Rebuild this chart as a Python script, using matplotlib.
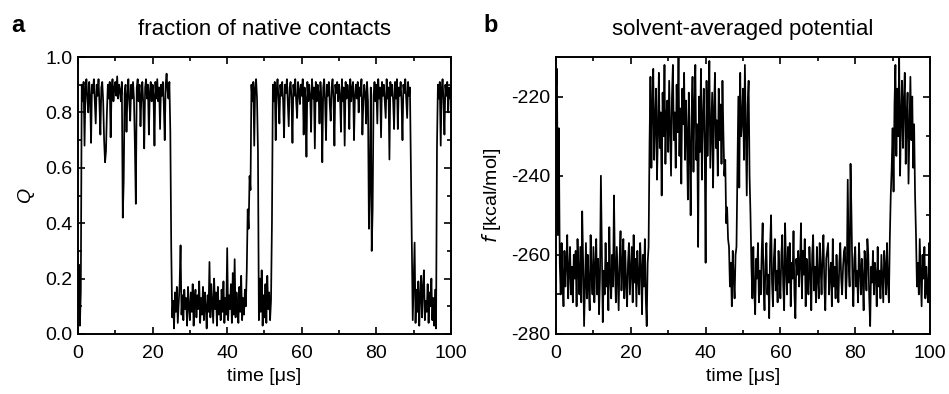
import numpy as np
import matplotlib
matplotlib.use("Agg")
import matplotlib.pyplot as plt
from matplotlib.ticker import MultipleLocator

plt.rcParams['font.family'] = ['Liberation Sans', 'DejaVu Sans']
plt.rcParams['axes.unicode_minus'] = False

SAMPLE_US = 0.25  # sampling interval (microseconds)

# fraction of native contacts Q
q_values = [
    0.10, 0.25, 0.03, 0.15, 0.90, 0.84, 0.91, 0.68, 0.88, 0.92, 0.85, 0.80, 0.91, 0.86, 0.69, 0.90, 0.87, 0.92, 0.84, 0.76,
    0.90, 0.86, 0.92, 0.83, 0.72, 0.89, 0.91, 0.84, 0.70, 0.62, 0.66, 0.80, 0.90, 0.85, 0.91, 0.71, 0.88, 0.92, 0.84, 0.89,
    0.91, 0.86, 0.93, 0.85, 0.90, 0.88, 0.84, 0.91, 0.42, 0.55, 0.87, 0.90, 0.73, 0.86, 0.92, 0.84, 0.77, 0.90, 0.85, 0.91,
    0.85, 0.68, 0.47, 0.89, 0.92, 0.84, 0.90, 0.75, 0.86, 0.91, 0.83, 0.67, 0.89, 0.92, 0.85, 0.90, 0.72, 0.87, 0.91, 0.84,
    0.90, 0.86, 0.68, 0.91, 0.85, 0.92, 0.84, 0.89, 0.74, 0.90, 0.86, 0.91, 0.83, 0.70, 0.90, 0.94, 0.88, 0.85, 0.91, 0.73,
    0.31, 0.06, 0.12, 0.02, 0.15, 0.08, 0.17, 0.04, 0.11, 0.18, 0.32, 0.07, 0.14, 0.05, 0.16, 0.09, 0.13, 0.03, 0.17, 0.10,
    0.05, 0.15, 0.08, 0.18, 0.03, 0.12, 0.16, 0.06, 0.14, 0.09, 0.19, 0.04, 0.13, 0.07, 0.17, 0.05, 0.15, 0.10, 0.02, 0.14,
    0.08, 0.26, 0.06, 0.18, 0.11, 0.04, 0.20, 0.09, 0.15, 0.03, 0.17, 0.07, 0.12, 0.05, 0.16, 0.08, 0.19, 0.04, 0.13, 0.07,
    0.31, 0.05, 0.14, 0.09, 0.18, 0.04, 0.22, 0.07, 0.27, 0.06, 0.15, 0.10, 0.04, 0.17, 0.08, 0.21, 0.05, 0.13, 0.07, 0.16,
    0.10, 0.23, 0.45, 0.38, 0.57, 0.52, 0.90, 0.84, 0.91, 0.68, 0.89, 0.92, 0.85, 0.66, 0.05, 0.20, 0.08, 0.23, 0.03, 0.14,
    0.06, 0.18, 0.04, 0.21, 0.09, 0.15, 0.05, 0.12, 0.40, 0.90, 0.84, 0.91, 0.70, 0.88, 0.92, 0.85, 0.76, 0.90, 0.86, 0.91,
    0.84, 0.71, 0.90, 0.87, 0.92, 0.83, 0.75, 0.89, 0.91, 0.85, 0.69, 0.90, 0.86, 0.92, 0.84, 0.78, 0.91, 0.88, 0.83, 0.90,
    0.86, 0.92, 0.72, 0.89, 0.85, 0.64, 0.91, 0.84, 0.90, 0.86, 0.73, 0.92, 0.85, 0.89, 0.67, 0.91, 0.84, 0.90, 0.87, 0.76,
    0.91, 0.85, 0.62, 0.89, 0.92, 0.84, 0.70, 0.90, 0.86, 0.91, 0.83, 0.77, 0.89, 0.92, 0.85, 0.68, 0.90, 0.87, 0.91, 0.84,
    0.90, 0.86, 0.73, 0.92, 0.84, 0.89, 0.68, 0.91, 0.85, 0.90, 0.87, 0.74, 0.92, 0.84, 0.89, 0.91, 0.70, 0.86, 0.90, 0.85,
    0.91, 0.80, 0.89, 0.86, 0.92, 0.72, 0.84, 0.90, 0.87, 0.76, 0.91, 0.84, 0.38, 0.55, 0.89, 0.30, 0.45, 0.86, 0.91, 0.84,
    0.90, 0.76, 0.92, 0.85, 0.89, 0.71, 0.91, 0.86, 0.90, 0.84, 0.78, 0.92, 0.85, 0.89, 0.63, 0.91, 0.86, 0.90, 0.84, 0.74,
    0.91, 0.85, 0.92, 0.74, 0.89, 0.86, 0.91, 0.84, 0.70, 0.90, 0.87, 0.92, 0.85, 0.78, 0.91, 0.86, 0.89, 0.60, 0.30, 0.05,
    0.19, 0.33, 0.04, 0.16, 0.08, 0.19, 0.03, 0.14, 0.21, 0.06, 0.17, 0.23, 0.05, 0.12, 0.08, 0.18, 0.04, 0.15, 0.10, 0.20,
    0.05, 0.13, 0.03, 0.16, 0.02, 0.68, 0.90, 0.85, 0.91, 0.68, 0.88, 0.92, 0.84, 0.72, 0.90, 0.86, 0.91, 0.80, 0.89, 0.85,
    0.90,
]

# solvent-averaged potential f [kcal/mol]
f_values = [
    -218, -213, -255, -228, -262, -270, -257, -266, -273, -259, -268, -262, -255, -271, -264, -258, -270, -263, -272, -260,
    -266, -259, -273, -256, -264, -270, -258, -272, -249, -262, -278, -267, -257, -271, -260, -268, -274, -255, -265, -270,
    -258, -272, -263, -256, -270, -261, -275, -266, -240, -259, -277, -264, -270, -257, -268, -262, -274, -253, -266, -271,
    -260, -268, -245, -263, -272, -258, -266, -274, -261, -254, -269, -263, -256, -271, -259, -267, -273, -262, -257, -270,
    -264, -258, -272, -255, -267, -261, -273, -259, -266, -270, -257, -263, -275, -260, -268, -256, -271, -278, -262, -258,
    -232, -215, -238, -222, -213, -236, -226, -218, -241, -229, -214, -233, -224, -245, -219, -230, -212, -237, -225, -221,
    -234, -216, -228, -240, -220, -212, -231, -224, -238, -217, -229, -210, -235, -223, -242, -218, -227, -214, -236, -221,
    -230, -246, -219, -233, -250, -225, -215, -239, -222, -212, -236, -227, -258, -220, -234, -213, -241, -226, -218, -232,
    -262, -216, -235, -224, -211, -238, -228, -219, -243, -223, -214, -233, -226, -240, -218, -231, -222, -237, -216, -229,
    -240, -236, -252, -248, -256, -258, -268, -262, -273, -259, -266, -271, -260, -258, -238, -220, -243, -214, -230, -226,
    -218, -236, -212, -229, -245, -222, -216, -240, -250, -263, -271, -258, -269, -275, -261, -266, -257, -272, -264, -270,
    -259, -252, -268, -274, -262, -257, -270, -265, -276, -258, -250, -267, -273, -261, -256, -269, -264, -272, -259, -266,
    -271, -260, -255, -268, -274, -252, -263, -270, -258, -267, -257, -273, -262, -266, -254, -270, -276, -261, -265, -259,
    -268, -262, -252, -271, -259, -265, -256, -273, -261, -267, -270, -258, -264, -274, -260, -255, -269, -263, -272, -258,
    -266, -271, -257, -263, -270, -260, -255, -268, -274, -261, -259, -257, -270, -265, -262, -273, -256, -268, -263, -271,
    -260, -267, -272, -262, -257, -266, -270, -263, -259, -258, -271, -265, -241, -262, -268, -237, -250, -266, -273, -261,
    -258, -268, -264, -272, -257, -263, -270, -261, -266, -274, -259, -262, -269, -256, -260, -271, -278, -263, -267, -259,
    -270, -262, -265, -273, -258, -268, -264, -271, -260, -266, -272, -259, -263, -270, -257, -267, -272, -256, -245, -238,
    -228, -244, -222, -212, -235, -218, -230, -210, -240, -225, -216, -233, -221, -214, -237, -226, -219, -242, -228, -215,
    -231, -220, -238, -227, -245, -255, -268, -262, -270, -256, -265, -273, -260, -266, -258, -271, -263, -269, -272, -257,
    -266,
]

titles = ["fraction of native contacts", "solvent-averaged potential"]
panel_letters = ["a", "b"]

t_q = np.arange(len(q_values)) * SAMPLE_US
t_f = np.arange(len(f_values)) * SAMPLE_US

fig = plt.figure(figsize=(9.49, 3.94), dpi=100)
ax1 = fig.add_axes([0.0822, 0.1523, 0.3930, 0.7030])
ax2 = fig.add_axes([0.5859, 0.1523, 0.3941, 0.7030])

ax1.plot(t_q, q_values, color='black', lw=1.25)
ax2.plot(t_f, f_values, color='black', lw=1.25)

ax1.set_xlim(0, 100)
ax1.set_ylim(0, 1.0)
ax1.yaxis.set_major_locator(MultipleLocator(0.2))
ax1.yaxis.set_minor_locator(MultipleLocator(0.1))
ax1.yaxis.set_major_formatter(plt.FuncFormatter(lambda v, p: f"{v:.1f}"))
ax1.set_ylabel("Q", fontstyle='italic', fontsize=14, labelpad=8)

ax2.set_xlim(0, 100)
ax2.set_ylim(-280, -210)
ax2.yaxis.set_major_locator(MultipleLocator(20))
ax2.yaxis.set_minor_locator(MultipleLocator(10))
ax2.set_ylabel(r"$\mathit{f}$ [kcal/mol]", fontsize=14, labelpad=6)

for ax, title in zip([ax1, ax2], titles):
    ax.xaxis.set_major_locator(MultipleLocator(20))
    ax.xaxis.set_minor_locator(MultipleLocator(10))
    ax.tick_params(which='both', direction='in', top=True, right=True,
                   labelsize=14, width=1.2)
    ax.tick_params(axis='x', which='both', pad=8)
    ax.tick_params(axis='y', which='both', pad=4)
    ax.tick_params(which='major', length=5)
    ax.tick_params(which='minor', length=3)
    for s in ax.spines.values():
        s.set_linewidth(1.4)
    ax.set_xlabel("time [μs]", fontsize=14, labelpad=4)
    ax.set_title(title, fontsize=16, pad=16)

fig.text(0.012, 0.918, panel_letters[0], fontsize=17, fontweight='bold')
fig.text(0.509, 0.918, panel_letters[1], fontsize=17, fontweight='bold')

fig.savefig("out.png", dpi=100)
